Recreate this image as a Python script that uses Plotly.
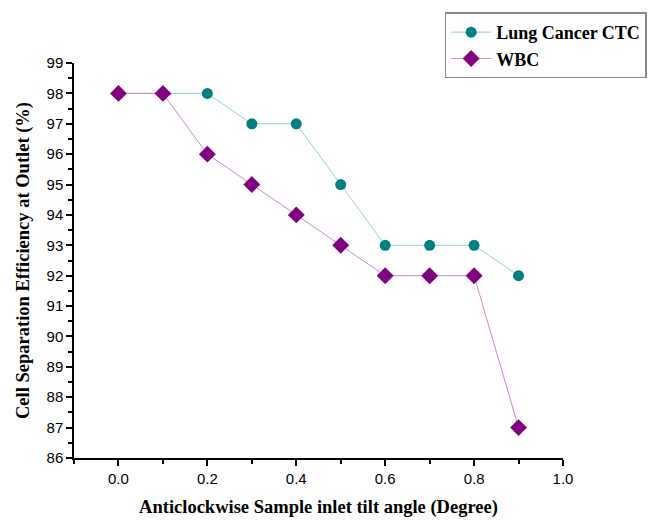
import plotly.graph_objects as go

angles = [0.0, 0.1, 0.2, 0.3, 0.4, 0.5, 0.6, 0.7, 0.8, 0.9]
ctc = [98, 98, 98, 97, 97, 95, 93, 93, 93, 92]
wbc = [98, 98, 96, 95, 94, 93, 92, 92, 92, 87]

fig = go.Figure()
fig.add_trace(go.Scatter(x=angles, y=ctc, mode="lines+markers", name="<b>Lung Cancer CTC</b>",
                         line=dict(color="#8fd3cf", width=1),
                         marker=dict(color="#008080", size=11, symbol="circle")))
fig.add_trace(go.Scatter(x=angles, y=wbc, mode="lines+markers", name="<b>WBC</b>",
                         line=dict(color="#cc88cc", width=1),
                         marker=dict(color="#800080", size=13, symbol="diamond")))

axis_common = dict(showline=True, linecolor="black", linewidth=1.5, ticks="outside",
                   ticklen=6, tickwidth=1.5, tickcolor="black", showgrid=False, zeroline=False,
                   tickfont=dict(family="Liberation Sans, Arial", size=15, color="black"))

fig.update_xaxes(range=[-0.1, 1.0], tickvals=[0.0, 0.2, 0.4, 0.6, 0.8, 1.0],
                 ticktext=["0.0", "0.2", "0.4", "0.6", "0.8", "1.0"],
                 minor=dict(dtick=0.1, tick0=0, ticks="outside", ticklen=4, tickcolor="black", tickwidth=1.5),
                 title=dict(text="<b>Anticlockwise Sample inlet tilt angle (Degree)</b>",
                            font=dict(family="Liberation Serif, Times New Roman", size=18.5, color="black"),
                            standoff=14),
                 **axis_common)
fig.update_yaxes(range=[86, 99], dtick=1,
                 minor=dict(dtick=0.5, ticks="outside", ticklen=4, tickcolor="black", tickwidth=1.5),
                 title=dict(text="<b>Cell Separation Efficiency at Outlet (%)</b>",
                            font=dict(family="Liberation Serif, Times New Roman", size=18.5, color="black"),
                            standoff=12),
                 **axis_common)

fig.update_layout(width=651, height=520, margin=dict(l=74, r=88, t=63, b=62, autoexpand=False),
                  plot_bgcolor="white", paper_bgcolor="white",
                  legend=dict(x=0.758, y=1.128, xanchor="left", yanchor="top",
                              bordercolor="#888888", borderwidth=1.5, bgcolor="white",
                              font=dict(family="Liberation Serif, Times New Roman", size=18, color="black"),
                              tracegroupgap=0, itemwidth=40))

fig.write_html("out.html")
